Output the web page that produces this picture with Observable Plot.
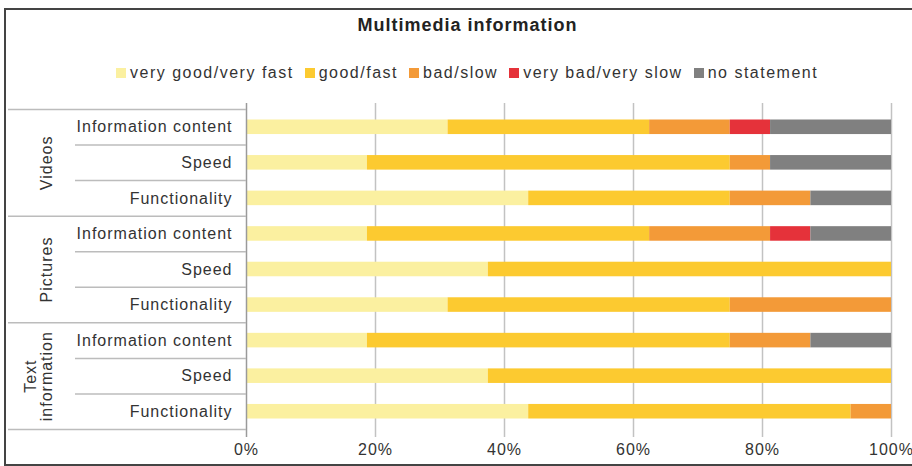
<!DOCTYPE html>
<html>
<head>
<meta charset="utf-8">
<script src="https://cdn.jsdelivr.net/npm/d3@7"></script>
<script src="https://cdn.jsdelivr.net/npm/@observablehq/plot@0.6"></script>
<style>
  html, body { margin: 0; padding: 0; background: #fff; }
  body { width: 912px; height: 466px; position: relative; overflow: hidden;
         font-family: "Liberation Sans", Arial, sans-serif; color: #333; }
  #frame { position: absolute; left: 4px; top: 8px; width: 930px; height: 454px;
           border-left: 2px solid #444; border-top: 2px solid #444; border-bottom: 2px solid #444; }
  #title { position: absolute; left: 0; top: 15px; width: 935px; text-align: center;
           font-weight: bold; font-size: 18px; line-height: 20px; color: #222; letter-spacing: 1px; }
  #legend { position: absolute; left: 116px; top: 63px; display: flex; align-items: center;
            font-size: 16px; line-height: 20px; letter-spacing: 1.5px; }
  .item { display: flex; align-items: center; margin-right: 11px; }
  .sw { width: 10px; height: 10px; margin-right: 4px; }
  #chart { position: absolute; left: 0; top: 95px; }
</style>
</head>
<body>
<div id="frame"></div>
<div id="title"></div>
<div id="legend"></div>
<div id="chart"></div>
<script>
// ---- data ----
const title = "Multimedia information";
const groups = ["Videos", "Pictures", "Text\ninformation"];
const aspects = ["Information content", "Speed", "Functionality"];
const ratings = ["very good/very fast", "good/fast", "bad/slow", "very bad/very slow", "no statement"];
const colors = ["#fbf0a0", "#fcca30", "#f39a38", "#e5323a", "#808080"];
// one value per row: Videos (Info, Speed, Func), Pictures (...), Text information (...)
const veryGood    = [31.25, 18.75, 43.75, 18.75, 37.5, 31.25, 18.75, 37.5, 43.75];
const good        = [31.25, 56.25, 31.25, 43.75, 62.5, 43.75, 56.25, 62.5, 50];
const bad         = [12.5, 6.25, 12.5, 18.75, 0, 25, 12.5, 0, 6.25];
const veryBad     = [6.25, 0, 0, 6.25, 0, 0, 0, 0, 0];
const noStatement = [18.75, 18.75, 12.5, 12.5, 0, 0, 12.5, 0, 0];
const xTicks = [0, 20, 40, 60, 80, 100];
const xTickLabels = ["0%", "20%", "40%", "60%", "80%", "100%"];

// ---- build tables ----
const series = [veryGood, good, bad, veryBad, noStatement];
const rows = [];
groups.forEach((g, gi) => aspects.forEach((a, ai) => rows.push({group: g, aspect: a, row: gi * aspects.length + ai})));
const segments = [];
rows.forEach(r => {
  let acc = 0;
  series.forEach((s, si) => {
    const v = s[r.row];
    segments.push({row: r.row, rating: ratings[si], x1: acc, x2: acc + v});
    acc += v;
  });
});
const groupCenters = groups.map((g, gi) => ({group: g, y: gi * aspects.length + (aspects.length - 1) / 2}));
const n = rows.length;
const innerBounds = rows.filter(r => (r.row % aspects.length) !== aspects.length - 1).map(r => r.row + 0.5);
const groupBounds = d3.range(groups.length + 1).map(i => i * aspects.length - 0.5);

// ---- title & legend ----
document.getElementById("title").textContent = title;
const legend = document.getElementById("legend");
ratings.forEach((r, i) => {
  const it = document.createElement("div");
  it.className = "item";
  const sw = document.createElement("div");
  sw.className = "sw";
  sw.style.background = colors[i];
  const tx = document.createElement("span");
  tx.textContent = r;
  it.appendChild(sw); it.appendChild(tx);
  legend.appendChild(it);
});

// ---- chart ----
const chart = Plot.plot({
  width: 912,
  height: 368,
  marginLeft: 246,
  marginRight: 21,
  marginTop: 14,
  marginBottom: 34,
  style: {fontFamily: "'Liberation Sans', Arial, sans-serif", fontSize: "16px", color: "#333", letterSpacing: "1px", background: "transparent"},
  x: {domain: [0, 100]},
  y: {domain: [-0.5, n - 0.5], reverse: true, axis: null},
  color: {domain: ratings, range: colors},
  marks: [
    Plot.ruleX(xTicks.slice(1), {stroke: "#c2c2c2", strokeWidth: 1.5, insetTop: -6, insetBottom: -8}),
    Plot.rect(segments, {
      x1: "x1", x2: "x2",
      y1: d => d.row - 0.5, y2: d => d.row + 0.5,
      fill: "rating", insetTop: 10.5, insetBottom: 10.5
    }),
    Plot.ruleX([xTicks[0]], {stroke: "#9a9a9a", strokeWidth: 1.5, insetTop: -6, insetBottom: -8}),
    Plot.ruleY(innerBounds, {x1: 0, x2: 0, stroke: "#bcbcbc", strokeWidth: 1.5, insetLeft: -171}),
    Plot.ruleY(groupBounds, {x1: 0, x2: 0, stroke: "#bcbcbc", strokeWidth: 1.5, insetLeft: -238}),
    Plot.text(rows, {y: "row", text: "aspect", frameAnchor: "left", textAnchor: "end", dx: -14, fill: "#333"}),
    Plot.text(groupCenters, {y: "y", text: "group", frameAnchor: "left", textAnchor: "middle", lineAnchor: "bottom", rotate: -90, dx: -195, fill: "#333"}),
    Plot.axisX({ticks: xTicks, tickFormat: d => xTickLabels[xTicks.indexOf(d)], tickSize: 0, tickPadding: 14, label: null, fill: "#333"})
  ]
});
document.getElementById("chart").appendChild(chart);
</script>
</body>
</html>
